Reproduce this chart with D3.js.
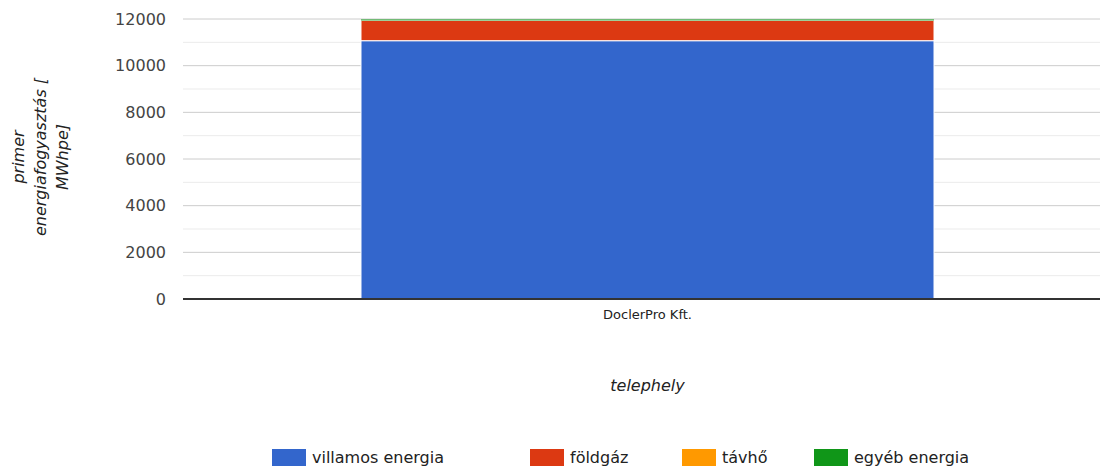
<!DOCTYPE html>
<html>
<head>
<meta charset="utf-8">
<script src="https://cdn.jsdelivr.net/npm/d3@7"></script>
<style>
  body { margin: 0; background: #fff; }
  .svg-frame { width: 1100px; height: 468px; }
  svg text { font-family: "DejaVu Sans", sans-serif; }
</style>
</head>
<body>
<div class="svg-frame"></div>
<script>
const sites = ["DoclerPro Kft."]
const seriesNames = ["villamos energia", "földgáz", "távhő", "egyéb energia"]
const seriesColors = ["#3366cc", "#dc3912", "#ff9900", "#109618"]
// one value per site for each series
const villamos = [11070]
const foldgaz = [870]
const tavho = [0]
const egyeb = [40]
const yTicks = [0, 2000, 4000, 6000, 8000, 10000, 12000]

function drawViz() {
  const width = 1100, height = 468
  const margin = { top: 19, right: -12, bottom: 169, left: 183 }
  const svg = d3.select(".svg-frame").append("svg")
    .attr("width", width).attr("height", height)
    .attr("font-family", "DejaVu Sans")

  const rows = sites.map((s, i) => ({
    site: s,
    [seriesNames[0]]: villamos[i],
    [seriesNames[1]]: foldgaz[i],
    [seriesNames[2]]: tavho[i],
    [seriesNames[3]]: egyeb[i]
  }))
  const stacked = d3.stack().keys(seriesNames)(rows)

  const xScale = d3.scaleBand(sites, [margin.left, width - margin.right]).padding(0.237)
  const yScale = d3.scaleLinear([0, 12000], [height - margin.bottom, margin.top])

  // minor gridlines
  svg.append("g").selectAll("line")
    .data(d3.range(1000, 12000, 2000))
    .join("line")
      .attr("x1", margin.left).attr("x2", width)
      .attr("y1", d => yScale(d)).attr("y2", d => yScale(d))
      .attr("stroke", "#ebebeb").attr("stroke-width", 1)

  // major gridlines
  svg.append("g").selectAll("line")
    .data(yTicks.filter(d => d > 0))
    .join("line")
      .attr("x1", margin.left).attr("x2", width)
      .attr("y1", d => yScale(d)).attr("y2", d => yScale(d))
      .attr("stroke", "#cccccc").attr("stroke-width", 1)

  // y tick labels
  svg.append("g").selectAll("text")
    .data(yTicks)
    .join("text")
      .attr("x", 166).attr("y", d => yScale(d))
      .attr("dy", "0.35em")
      .attr("text-anchor", "end")
      .attr("font-size", 16)
      .attr("fill", "#444")
      .text(d => d)

  // stacked bars
  svg.append("g").selectAll("g")
    .data(stacked)
    .join("g")
      .attr("fill", (d, i) => seriesColors[i])
    .selectAll("rect")
    .data(d => d)
    .join("rect")
      .attr("x", d => xScale(d.data.site))
      .attr("width", xScale.bandwidth())
      .attr("y", d => yScale(d[1]))
      .attr("height", d => Math.max(0, yScale(d[0]) - yScale(d[1])))
      .attr("stroke", d => (d[1] - d[0]) > 200 ? "#fff" : "none")
      .attr("stroke-width", 1)

  // baseline
  svg.append("line")
    .attr("x1", margin.left).attr("x2", width)
    .attr("y1", yScale(0)).attr("y2", yScale(0))
    .attr("stroke", "#333").attr("stroke-width", 2)

  // x category labels
  svg.append("g").selectAll("text")
    .data(sites)
    .join("text")
      .attr("x", d => xScale(d) + xScale.bandwidth() / 2)
      .attr("y", 319)
      .attr("text-anchor", "middle")
      .attr("font-size", 13)
      .attr("fill", "#222")
      .text(d => d)

  // x axis title
  svg.append("text")
    .attr("x", (margin.left + width - margin.right) / 2)
    .attr("y", 391)
    .attr("text-anchor", "middle")
    .attr("font-size", 16)
    .attr("font-style", "italic")
    .attr("fill", "#222")
    .text("telephely")

  // y axis title
  const yTitle = svg.append("text")
    .attr("transform", "translate(41,157) rotate(-90)")
    .attr("text-anchor", "middle")
    .attr("font-size", 16)
    .attr("font-style", "italic")
    .attr("fill", "#222")
  const yLines = ["primer", "energiafogyasztás [", "MWhpe]"]
  yTitle.selectAll("tspan")
    .data(yLines)
    .join("tspan")
      .attr("x", 0)
      .attr("y", (d, i) => (i - 1) * 22 + 5)
      .text(d => d)

  // legend
  const legendX = [272, 530, 682, 814]
  const legend = svg.append("g").selectAll("g")
    .data(seriesNames)
    .join("g")
      .attr("transform", (d, i) => `translate(${legendX[i]},449)`)
  legend.append("rect")
    .attr("width", 34).attr("height", 17)
    .attr("fill", (d, i) => seriesColors[i])
  legend.append("text")
    .attr("x", 40).attr("y", 14)
    .attr("font-size", 16)
    .attr("fill", "#222")
    .text(d => d)
}

drawViz()
</script>
</body>
</html>
